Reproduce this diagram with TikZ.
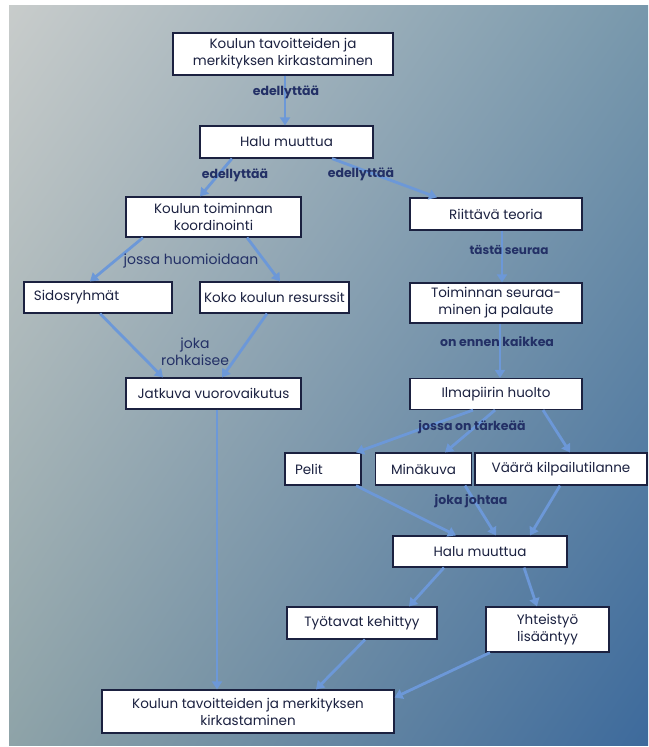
\documentclass[tikz,border=0pt]{standalone}
\usepackage{fontspec}
\setmainfont{Poppins}
\usetikzlibrary{arrows.meta,shadings}
\definecolor{ink}{HTML}{1B2140}
\definecolor{labelink}{HTML}{233066}
\definecolor{flow}{HTML}{6C98D8}
\definecolor{bgUL}{HTML}{C8CCCB}
\definecolor{bgUR}{HTML}{7898AC}
\definecolor{bgLL}{HTML}{8EA3A8}
\definecolor{bgLR}{HTML}{3D6A9C}
\begin{document}
\begin{tikzpicture}[x=1pt,y=-1pt,
  box/.style={draw=ink, line width=1.2pt, fill=white, text=ink,
    font=\fontsize{13.5}{17}\selectfont, align=center, inner sep=2pt},
  flowarrow/.style={draw=flow, line width=2.8pt,
    -{Triangle[width=10pt,length=8pt]}},
  rel/.style={text=labelink, font=\bfseries\fontsize{12.5}{15}\selectfont, inner sep=1pt},
  relthin/.style={text=labelink, font=\fontsize{14}{16}\selectfont, inner sep=1pt, align=center},
]
\useasboundingbox (0,0) rectangle (648,747);
\fill[white] (0,0) rectangle (648,747);
\shade[upper left=bgUL, upper right=bgUR, lower left=bgLL, lower right=bgLR]
  (9,5) rectangle (648,745);

% boxes
\node[box, minimum width=220pt, minimum height=42pt] (top) at (283,54)
  {Koulun tavoitteiden ja\\merkityksen kirkastaminen};
\node[box, minimum width=173pt, minimum height=32pt] (halu1) at (286.5,142) {Halu muuttua};
\node[box, minimum width=175pt, minimum height=40pt] (koord) at (213.5,217)
  {Koulun toiminnan\\koordinointi};
\node[box, minimum width=172pt, minimum height=32pt] (teoria) at (496,214) {Riittävä teoria};
\node[box, align=left, text width=128pt, inner xsep=10pt, minimum height=31pt] (sidos) at (98,297.5) {Sidosryhmät};
\node[box, minimum width=149pt, minimum height=31pt, inner xsep=0pt] (koko) at (274.5,297.5) {Koko koulun resurssit};
\node[box, minimum width=172pt, minimum height=40pt] (seuranta) at (496,303)
  {Toiminnan seuraa-\\minen ja palaute};
\node[box, minimum width=175pt, minimum height=31pt, inner xsep=0pt] (jatkuva) at (213.5,393.5) {Jatkuva vuorovaikutus};
\node[box, minimum width=172pt, minimum height=31pt] (ilma) at (496,394) {Ilmapiirin huolto};
\node[box, align=left, text width=56pt, inner xsep=10pt, minimum height=32pt] (pelit) at (323,469) {Pelit};
\node[box, minimum width=96pt, minimum height=32pt] (mina) at (423.5,469) {Minäkuva};
\node[box, minimum width=172pt, minimum height=32pt, inner xsep=0pt] (vaara) at (561,469) {Väärä kilpailutilanne};
\node[box, minimum width=174pt, minimum height=31pt] (halu2) at (480,551.5) {Halu muuttua};
\node[box, minimum width=150pt, minimum height=32pt] (tyotavat) at (362,623) {Työtavat kehittyy};
\node[box, minimum width=123pt, minimum height=45pt] (yhteis) at (547.5,629.5) {Yhteistyö\\lisääntyy};
\node[box, minimum width=292pt, minimum height=43pt] (bottom) at (248,711.5)
  {Koulun tavoitteiden ja merkityksen\\kirkastaminen};

% connectors
\draw[flowarrow] ([xshift=2pt]top.south) -- ([xshift=-1.5pt]halu1.north);
\draw[flowarrow] ([xshift=-54.5pt]halu1.south) -- ([xshift=-13.5pt]koord.north);
\draw[flowarrow] ([xshift=45.5pt]halu1.south) -- ([xshift=-59pt]teoria.north);
\draw[flowarrow] ([xshift=-70.5pt]koord.south) -- ([xshift=-8pt]sidos.north);
\draw[flowarrow] ([xshift=33.5pt]koord.south) -- ([xshift=5.5pt]koko.north);
\draw[flowarrow] ([xshift=2pt]sidos.south) -- ([xshift=-50.5pt]jatkuva.north);
\draw[flowarrow] ([xshift=-7.5pt]koko.south) -- ([xshift=8.5pt]jatkuva.north);
\draw[flowarrow] ([xshift=3.5pt]jatkuva.south) -- ([xshift=-31pt]bottom.north);
\draw[flowarrow] ([xshift=6pt]teoria.south) -- ([xshift=6pt]seuranta.north);
\draw[flowarrow] ([xshift=4pt]seuranta.south) -- ([xshift=4pt]ilma.north);
\draw[flowarrow] ([xshift=-23pt]ilma.south) -- ([xshift=33pt]pelit.north);
\draw[flowarrow] ([xshift=-1pt]ilma.south) -- ([xshift=21.5pt]mina.north);
\draw[flowarrow] ([xshift=47pt]ilma.south) -- ([xshift=9pt]vaara.north);
\draw[flowarrow] ([xshift=33pt]pelit.south) -- ([xshift=-24pt]halu2.north);
\draw[flowarrow] ([xshift=41.5pt]mina.south) -- ([xshift=16pt]halu2.north);
\draw[flowarrow] ([xshift=-1pt]vaara.south) -- ([xshift=50pt]halu2.north);
\draw[flowarrow] ([xshift=-36pt]halu2.south) -- ([xshift=47pt]tyotavat.north);
\draw[flowarrow] ([xshift=44pt]halu2.south) -- ([xshift=-10.5pt]yhteis.north);
\draw[flowarrow] ([xshift=3pt]tyotavat.south) -- ([xshift=68pt]bottom.north);
\draw[flowarrow] ([xshift=-57.5pt]yhteis.south) -- ([yshift=14pt]bottom.east);

% relation labels
\node[rel] (l1) at (286,92) {edellyttää};
\node[rel] (l2) at (235,175) {edellyttää};
\node[rel] (l3) at (361,174) {edellyttää};
\node[relthin] (l4) at (191,261) {jossa huomioidaan};
\node[rel, font=\bfseries\fontsize{12}{14}\selectfont] (l5) at (509,250) {tästä seuraa};
\node[relthin, font=\fontsize{14}{17}\selectfont] (l6) at (195,352) {joka\\rohkaisee};
\node[rel] (l7) at (497,342) {on ennen kaikkea};
\node[rel] (l8) at (472,427) {jossa on tärkeää};
\node[rel] (l9) at (471,501) {joka johtaa};
\end{tikzpicture}
\end{document}
